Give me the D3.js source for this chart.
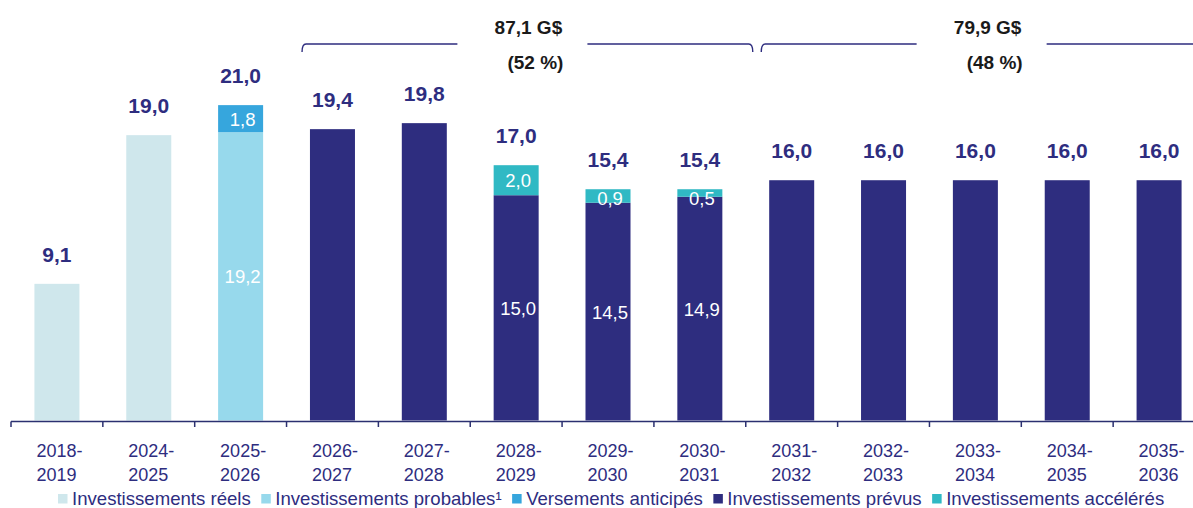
<html>
<head>
<style>
  body { margin: 0; background: #fff; }
  svg { display: block; font-family: "Liberation Sans", Arial, sans-serif; }
</style>
</head>
<body>
<div id="container"></div>
<script src="https://cdn.jsdelivr.net/npm/d3@7"></script>
<script>

var categories = ["2018-2019", "2024-2025", "2025-2026", "2026-2027", "2027-2028", "2028-2029", "2029-2030",
                  "2030-2031", "2031-2032", "2032-2033", "2033-2034", "2034-2035", "2035-2036"];
var reels      = [9.1, 19.0, 0, 0, 0, 0, 0, 0, 0, 0, 0, 0, 0];
var probables  = [0, 0, 19.2, 0, 0, 0, 0, 0, 0, 0, 0, 0, 0];
var anticipes  = [0, 0, 1.8, 0, 0, 0, 0, 0, 0, 0, 0, 0, 0];
var prevus     = [0, 0, 0, 19.4, 19.8, 15.0, 14.5, 14.9, 16.0, 16.0, 16.0, 16.0, 16.0];
var acceleres  = [0, 0, 0, 0, 0, 2.0, 0.9, 0.5, 0, 0, 0, 0, 0];
var totals     = [9.1, 19.0, 21.0, 19.4, 19.8, 17.0, 15.4, 15.4, 16.0, 16.0, 16.0, 16.0, 16.0];

var seriesNames = ["Investissements réels", "Investissements probables¹", "Versements anticipés",
                   "Investissements prévus", "Investissements accélérés"];
var seriesColors = ["#cfe7ec", "#97d9ec", "#36a6dd", "#2e2d7f", "#30b9c4"];

var groupTotals = ["87,1 G$", "79,9 G$"];
var groupShares = ["(52 %)", "(48 %)"];
var groupFirst  = ["2026-2027", "2031-2032"];
var groupLast   = ["2030-2031", "2035-2036"];

var navy = "#2e2d7f";
var fmt = function(v) { return v.toFixed(1).replace(".", ","); };

var width = 1193, height = 508;
var svg = d3.select("#container").append("svg")
    .attr("width", width)
    .attr("height", height);

var x = d3.scaleBand().domain(categories).range([11, 1205]).padding(0);
var y = d3.scaleLinear().domain([0, 28]).range([420.5, 0]);
var step = x.step();
var barW = step * 0.49;

// stack the series
var table = categories.map(function(c, i) {
  return {cat: c, s0: reels[i], s1: probables[i], s2: anticipes[i], s3: prevus[i], s4: acceleres[i]};
});
var keys = ["s0", "s1", "s2", "s3", "s4"];
var stacked = d3.stack().keys(keys)(table);

var bars = svg.append("g");
stacked.forEach(function(layer, k) {
  bars.selectAll(null)
    .data(layer.filter(function(d) { return d[1] - d[0] > 0; }))
    .enter().append("rect")
      .attr("x", function(d) { return x(d.data.cat) + (step - barW) / 2; })
      .attr("y", function(d) { return y(d[1]); })
      .attr("width", barW)
      .attr("height", function(d) { return y(d[0]) - y(d[1]); })
      .attr("fill", seriesColors[k]);
});

// inner labels for bars made of several segments
var segLabels = svg.append("g")
    .attr("fill", "#fff")
    .attr("font-size", 18.5)
    .attr("text-anchor", "middle");
categories.forEach(function(c, i) {
  var parts = keys.filter(function(k) { return table[i][k] > 0; });
  if (parts.length < 2) return;
  stacked.forEach(function(layer) {
    var d = layer[i];
    if (d[1] - d[0] <= 0) return;
    var base = Math.max(y((d[0] + d[1]) / 2) + 7, y(d[1]) + 16);
    segLabels.append("text")
      .attr("x", x(c) + step / 2 + 2)
      .attr("y", base)
      .text(fmt(d[1] - d[0]));
  });
});

// totals above bars
svg.append("g")
    .attr("fill", navy)
    .attr("font-size", 21)
    .attr("font-weight", "bold")
    .attr("text-anchor", "middle")
  .selectAll("text")
  .data(categories)
  .enter().append("text")
    .attr("x", function(d) { return x(d) + step / 2; })
    .attr("y", function(d, i) { return y(totals[i]) - 22; })
    .text(function(d, i) { return fmt(totals[i]); });

// axis
var axis = svg.append("g").attr("stroke", "#2b3070").attr("stroke-width", 1.5);
axis.append("line")
    .attr("x1", x.range()[0]).attr("x2", x.range()[1])
    .attr("y1", 421.5).attr("y2", 421.5);
axis.selectAll(".tk")
  .data(categories.concat(["end"]))
  .enter().append("line")
    .attr("x1", function(d, i) { return x.range()[0] + i * step; })
    .attr("x2", function(d, i) { return x.range()[0] + i * step; })
    .attr("y1", 421.5).attr("y2", 427);

var tickText = svg.append("g")
    .attr("fill", navy)
    .attr("font-size", 18)
  .selectAll("text")
  .data(categories)
  .enter().append("text")
    .attr("x", function(d) { return x(d) + step / 2 - 20.5; })
    .attr("y", 457);
tickText.append("tspan").text(function(d) { return d.split("-")[0] + "-"; });
tickText.append("tspan")
    .attr("x", function(d) { return x(d) + step / 2 - 20.5; })
    .attr("dy", 24)
    .text(function(d) { return d.split("-")[1]; });

// legend
var legend = svg.append("g").attr("font-size", 18.6).attr("fill", navy);
var lx = 58;
seriesNames.forEach(function(name, k) {
  legend.append("rect")
      .attr("x", lx).attr("y", 494)
      .attr("width", 9.5).attr("height", 9.5)
      .attr("fill", seriesColors[k]);
  var t = legend.append("text")
      .attr("x", lx + 14).attr("y", 504.5)
      .text(name);
  lx += 14 + t.node().getComputedTextLength() + 10.5;
});

// brackets at the top
var brackets = svg.append("g");
groupTotals.forEach(function(label, g) {
  var x0 = x(groupFirst[g]) + 15.5;
  var x1 = x(groupLast[g]) + step + 7;
  var cx = (x0 + x1) / 2;
  var by = 44;
  var path = "M" + x0 + "," + (by + 8) + " Q" + x0 + "," + by + " " + (x0 + 4) + "," + by +
             " L" + (cx - 70) + "," + by +
             " M" + (cx + 60) + "," + by + " L" + (x1 - 4) + "," + by +
             " Q" + x1 + "," + by + " " + x1 + "," + (by + 8);
  brackets.append("path")
      .attr("d", path)
      .attr("fill", "none")
      .attr("stroke", navy)
      .attr("stroke-width", 1.4);
  brackets.append("text")
      .attr("x", cx + 1).attr("y", 34)
      .attr("text-anchor", "middle")
      .attr("font-size", 19).attr("font-weight", "bold")
      .attr("fill", "#1a1a1a")
      .text(label);
  brackets.append("text")
      .attr("x", cx + 8).attr("y", 68.5)
      .attr("text-anchor", "middle")
      .attr("font-size", 19).attr("font-weight", "bold")
      .attr("fill", "#1a1a1a")
      .text(groupShares[g]);
});

</script>
</body>
</html>
